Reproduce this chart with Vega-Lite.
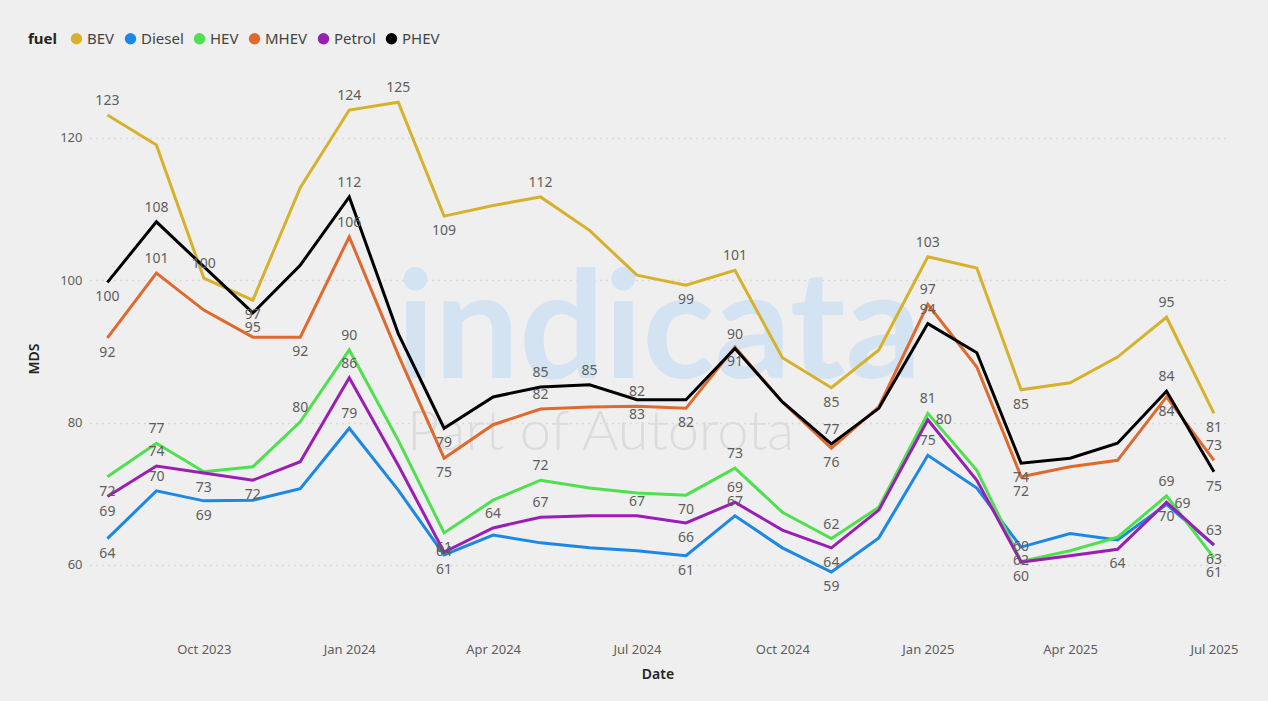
{
  "$schema": "https://vega.github.io/schema/vega-lite/v6.json",
  "autosize": "none",
  "padding": {"left": 90, "top": 88, "right": 43, "bottom": 72},
  "width": 1135,
  "height": 541,
  "background": "#efefef",
  "config": {"font": "Noto Sans", "view": {"stroke": null}},
  "datasets": {
    "mds": [
      {"d":"2023-08-01","fuel":"BEV","v":123.2,"lab":"123","pos":"a"},
      {"d":"2023-09-01","fuel":"BEV","v":119.0},
      {"d":"2023-10-01","fuel":"BEV","v":100.3,"lab":"100","pos":"a"},
      {"d":"2023-11-01","fuel":"BEV","v":97.2,"lab":"97","pos":"b"},
      {"d":"2023-12-01","fuel":"BEV","v":113.0},
      {"d":"2024-01-01","fuel":"BEV","v":123.9,"lab":"124","pos":"a"},
      {"d":"2024-02-01","fuel":"BEV","v":125.0,"lab":"125","pos":"a"},
      {"d":"2024-03-01","fuel":"BEV","v":109.0,"lab":"109","pos":"b"},
      {"d":"2024-04-01","fuel":"BEV","v":110.5},
      {"d":"2024-05-01","fuel":"BEV","v":111.7,"lab":"112","pos":"a"},
      {"d":"2024-06-01","fuel":"BEV","v":107.0},
      {"d":"2024-07-01","fuel":"BEV","v":100.7},
      {"d":"2024-08-01","fuel":"BEV","v":99.3,"lab":"99","pos":"b"},
      {"d":"2024-09-01","fuel":"BEV","v":101.4,"lab":"101","pos":"a"},
      {"d":"2024-10-01","fuel":"BEV","v":89.1},
      {"d":"2024-11-01","fuel":"BEV","v":84.9,"lab":"85","pos":"b"},
      {"d":"2024-12-01","fuel":"BEV","v":90.2},
      {"d":"2025-01-01","fuel":"BEV","v":103.3,"lab":"103","pos":"a"},
      {"d":"2025-02-01","fuel":"BEV","v":101.7},
      {"d":"2025-03-01","fuel":"BEV","v":84.6,"lab":"85","pos":"b"},
      {"d":"2025-04-01","fuel":"BEV","v":85.6},
      {"d":"2025-05-01","fuel":"BEV","v":89.2},
      {"d":"2025-06-01","fuel":"BEV","v":94.8,"lab":"95","pos":"a"},
      {"d":"2025-07-01","fuel":"BEV","v":81.3,"lab":"81","pos":"b"},

      {"d":"2023-08-01","fuel":"Diesel","v":63.7,"lab":"64","pos":"b"},
      {"d":"2023-09-01","fuel":"Diesel","v":70.4,"lab":"70","pos":"a"},
      {"d":"2023-10-01","fuel":"Diesel","v":69.0,"lab":"69","pos":"b"},
      {"d":"2023-11-01","fuel":"Diesel","v":69.1},
      {"d":"2023-12-01","fuel":"Diesel","v":70.7},
      {"d":"2024-01-01","fuel":"Diesel","v":79.2,"lab":"79","pos":"a"},
      {"d":"2024-02-01","fuel":"Diesel","v":70.5},
      {"d":"2024-03-01","fuel":"Diesel","v":61.4,"lab":"61","pos":"b"},
      {"d":"2024-04-01","fuel":"Diesel","v":64.2},
      {"d":"2024-05-01","fuel":"Diesel","v":63.1},
      {"d":"2024-06-01","fuel":"Diesel","v":62.4},
      {"d":"2024-07-01","fuel":"Diesel","v":62.0},
      {"d":"2024-08-01","fuel":"Diesel","v":61.3,"lab":"61","pos":"b"},
      {"d":"2024-09-01","fuel":"Diesel","v":66.9,"lab":"67","pos":"a"},
      {"d":"2024-10-01","fuel":"Diesel","v":62.4},
      {"d":"2024-11-01","fuel":"Diesel","v":59.0,"lab":"59","pos":"b"},
      {"d":"2024-12-01","fuel":"Diesel","v":63.8},
      {"d":"2025-01-01","fuel":"Diesel","v":75.4,"lab":"75","pos":"a"},
      {"d":"2025-02-01","fuel":"Diesel","v":70.8},
      {"d":"2025-03-01","fuel":"Diesel","v":62.5,"lab":"60","pos":"m"},
      {"d":"2025-04-01","fuel":"Diesel","v":64.4},
      {"d":"2025-05-01","fuel":"Diesel","v":63.5},
      {"d":"2025-06-01","fuel":"Diesel","v":68.5,"lab":"69","pos":"r"},
      {"d":"2025-07-01","fuel":"Diesel","v":62.8,"lab":"63","pos":"b"},

      {"d":"2023-08-01","fuel":"HEV","v":72.4,"lab":"72","pos":"b"},
      {"d":"2023-09-01","fuel":"HEV","v":77.1,"lab":"77","pos":"a"},
      {"d":"2023-10-01","fuel":"HEV","v":73.1},
      {"d":"2023-11-01","fuel":"HEV","v":73.8},
      {"d":"2023-12-01","fuel":"HEV","v":80.1,"lab":"80","pos":"a"},
      {"d":"2024-01-01","fuel":"HEV","v":90.2,"lab":"90","pos":"a"},
      {"d":"2024-02-01","fuel":"HEV","v":77.5},
      {"d":"2024-03-01","fuel":"HEV","v":64.5,"lab":"61","pos":"b"},
      {"d":"2024-04-01","fuel":"HEV","v":69.1},
      {"d":"2024-05-01","fuel":"HEV","v":71.9,"lab":"72","pos":"a"},
      {"d":"2024-06-01","fuel":"HEV","v":70.8},
      {"d":"2024-07-01","fuel":"HEV","v":70.1},
      {"d":"2024-08-01","fuel":"HEV","v":69.8,"lab":"70","pos":"b"},
      {"d":"2024-09-01","fuel":"HEV","v":73.6,"lab":"73","pos":"a"},
      {"d":"2024-10-01","fuel":"HEV","v":67.4},
      {"d":"2024-11-01","fuel":"HEV","v":63.7,"lab":"62","pos":"a"},
      {"d":"2024-12-01","fuel":"HEV","v":68.1},
      {"d":"2025-01-01","fuel":"HEV","v":81.3,"lab":"81","pos":"a"},
      {"d":"2025-02-01","fuel":"HEV","v":73.3},
      {"d":"2025-03-01","fuel":"HEV","v":60.5,"lab":"62","pos":"m"},
      {"d":"2025-04-01","fuel":"HEV","v":62.0},
      {"d":"2025-05-01","fuel":"HEV","v":63.9},
      {"d":"2025-06-01","fuel":"HEV","v":69.7,"lab":"69","pos":"a"},
      {"d":"2025-07-01","fuel":"HEV","v":61.0,"lab":"61","pos":"b"},

      {"d":"2023-08-01","fuel":"MHEV","v":91.9,"lab":"92","pos":"b"},
      {"d":"2023-09-01","fuel":"MHEV","v":101.0,"lab":"101","pos":"a"},
      {"d":"2023-10-01","fuel":"MHEV","v":95.8},
      {"d":"2023-11-01","fuel":"MHEV","v":92.0},
      {"d":"2023-12-01","fuel":"MHEV","v":92.0,"lab":"92","pos":"b"},
      {"d":"2024-01-01","fuel":"MHEV","v":106.1,"lab":"106","pos":"a"},
      {"d":"2024-02-01","fuel":"MHEV","v":89.5},
      {"d":"2024-03-01","fuel":"MHEV","v":75.0,"lab":"75","pos":"b"},
      {"d":"2024-04-01","fuel":"MHEV","v":79.7},
      {"d":"2024-05-01","fuel":"MHEV","v":81.9,"lab":"82","pos":"a"},
      {"d":"2024-06-01","fuel":"MHEV","v":82.2},
      {"d":"2024-07-01","fuel":"MHEV","v":82.3,"lab":"82","pos":"a"},
      {"d":"2024-08-01","fuel":"MHEV","v":82.0,"lab":"82","pos":"b"},
      {"d":"2024-09-01","fuel":"MHEV","v":90.6,"lab":"91","pos":"b"},
      {"d":"2024-10-01","fuel":"MHEV","v":82.9},
      {"d":"2024-11-01","fuel":"MHEV","v":76.4,"lab":"76","pos":"b"},
      {"d":"2024-12-01","fuel":"MHEV","v":82.2},
      {"d":"2025-01-01","fuel":"MHEV","v":96.6,"lab":"97","pos":"a"},
      {"d":"2025-02-01","fuel":"MHEV","v":87.8},
      {"d":"2025-03-01","fuel":"MHEV","v":72.4,"lab":"72","pos":"b"},
      {"d":"2025-04-01","fuel":"MHEV","v":73.8},
      {"d":"2025-05-01","fuel":"MHEV","v":74.7},
      {"d":"2025-06-01","fuel":"MHEV","v":83.6,"lab":"84","pos":"b"},
      {"d":"2025-07-01","fuel":"MHEV","v":74.7,"lab":"73","pos":"a"},

      {"d":"2023-08-01","fuel":"Petrol","v":69.6,"lab":"69","pos":"b"},
      {"d":"2023-09-01","fuel":"Petrol","v":73.9,"lab":"74","pos":"a"},
      {"d":"2023-10-01","fuel":"Petrol","v":72.9,"lab":"73","pos":"b"},
      {"d":"2023-11-01","fuel":"Petrol","v":71.9,"lab":"72","pos":"b"},
      {"d":"2023-12-01","fuel":"Petrol","v":74.5},
      {"d":"2024-01-01","fuel":"Petrol","v":86.3,"lab":"86","pos":"a"},
      {"d":"2024-02-01","fuel":"Petrol","v":74.0},
      {"d":"2024-03-01","fuel":"Petrol","v":61.8,"lab":"64","pos":"m"},
      {"d":"2024-04-01","fuel":"Petrol","v":65.2,"lab":"64","pos":"a"},
      {"d":"2024-05-01","fuel":"Petrol","v":66.7,"lab":"67","pos":"a"},
      {"d":"2024-06-01","fuel":"Petrol","v":66.9},
      {"d":"2024-07-01","fuel":"Petrol","v":66.9,"lab":"67","pos":"a"},
      {"d":"2024-08-01","fuel":"Petrol","v":65.9,"lab":"66","pos":"b"},
      {"d":"2024-09-01","fuel":"Petrol","v":68.8,"lab":"69","pos":"a"},
      {"d":"2024-10-01","fuel":"Petrol","v":64.9},
      {"d":"2024-11-01","fuel":"Petrol","v":62.4,"lab":"64","pos":"b"},
      {"d":"2024-12-01","fuel":"Petrol","v":67.7},
      {"d":"2025-01-01","fuel":"Petrol","v":80.4,"lab":"80","pos":"r"},
      {"d":"2025-02-01","fuel":"Petrol","v":71.9},
      {"d":"2025-03-01","fuel":"Petrol","v":60.4,"lab":"60","pos":"b"},
      {"d":"2025-04-01","fuel":"Petrol","v":61.3},
      {"d":"2025-05-01","fuel":"Petrol","v":62.2,"lab":"64","pos":"b"},
      {"d":"2025-06-01","fuel":"Petrol","v":68.8,"lab":"70","pos":"b"},
      {"d":"2025-07-01","fuel":"Petrol","v":62.8,"lab":"63","pos":"a"},

      {"d":"2023-08-01","fuel":"PHEV","v":99.7,"lab":"100","pos":"b"},
      {"d":"2023-09-01","fuel":"PHEV","v":108.2,"lab":"108","pos":"a"},
      {"d":"2023-10-01","fuel":"PHEV","v":101.9},
      {"d":"2023-11-01","fuel":"PHEV","v":95.4,"lab":"95","pos":"b"},
      {"d":"2023-12-01","fuel":"PHEV","v":102.1},
      {"d":"2024-01-01","fuel":"PHEV","v":111.7,"lab":"112","pos":"a"},
      {"d":"2024-02-01","fuel":"PHEV","v":92.5},
      {"d":"2024-03-01","fuel":"PHEV","v":79.2,"lab":"79","pos":"b"},
      {"d":"2024-04-01","fuel":"PHEV","v":83.6},
      {"d":"2024-05-01","fuel":"PHEV","v":85.0,"lab":"85","pos":"a"},
      {"d":"2024-06-01","fuel":"PHEV","v":85.3,"lab":"85","pos":"a"},
      {"d":"2024-07-01","fuel":"PHEV","v":83.2,"lab":"83","pos":"b"},
      {"d":"2024-08-01","fuel":"PHEV","v":83.2},
      {"d":"2024-09-01","fuel":"PHEV","v":90.4,"lab":"90","pos":"a"},
      {"d":"2024-10-01","fuel":"PHEV","v":82.9},
      {"d":"2024-11-01","fuel":"PHEV","v":77.0,"lab":"77","pos":"a"},
      {"d":"2024-12-01","fuel":"PHEV","v":82.0},
      {"d":"2025-01-01","fuel":"PHEV","v":93.9,"lab":"94","pos":"a"},
      {"d":"2025-02-01","fuel":"PHEV","v":89.8},
      {"d":"2025-03-01","fuel":"PHEV","v":74.3,"lab":"74","pos":"b"},
      {"d":"2025-04-01","fuel":"PHEV","v":75.0},
      {"d":"2025-05-01","fuel":"PHEV","v":77.1},
      {"d":"2025-06-01","fuel":"PHEV","v":84.4,"lab":"84","pos":"a"},
      {"d":"2025-07-01","fuel":"PHEV","v":73.1,"lab":"75","pos":"b"}
    ]
  },
  "encoding": {
    "x": {
      "field": "d", "type": "temporal", "title": "Date",
      "scale": {"type": "utc", "domain": ["2023-07-21", "2025-07-08"]},
      "axis": {
        "format": "%b %Y", "tickCount": {"interval": "month", "step": 3},
        "grid": false, "domain": false, "ticks": false,
        "labelFont": "Noto Sans", "labelFontSize": 13, "labelColor": "#605e5c", "labelPadding": 14,
        "titleFont": "Noto Sans", "titleFontSize": 14, "titleFontWeight": 600, "titleColor": "#252423", "titlePadding": 11
      }
    },
    "y": {
      "field": "v", "type": "quantitative", "title": "MDS",
      "scale": {"domain": [51, 127], "nice": false, "zero": false},
      "axis": {
        "values": [60, 80, 100, 120],
        "grid": true, "gridDash": [1, 5], "gridColor": "#c4c4c4", "gridWidth": 1.5,
        "domain": false, "ticks": false,
        "labelFont": "Noto Sans", "labelFontSize": 13, "labelColor": "#605e5c", "labelPadding": 8,
        "titleFont": "Noto Sans", "titleFontSize": 14, "titleFontWeight": 600, "titleColor": "#252423", "titlePadding": 18
      }
    }
  },
  "layer": [
    {
      "data": {"values": [{"d": "2024-07-15", "v": 86.3, "t": "indicata"}]},
      "mark": {"type": "text", "font": "Lato", "fontWeight": "bold", "fontSize": 150, "color": "#d3e3f2", "baseline": "alphabetic", "align": "center"},
      "encoding": {"text": {"field": "t"}}
    },
    {
      "data": {"values": [{"d": "2024-06-08", "v": 76.2, "t": "Part of Autorota"}]},
      "mark": {"type": "text", "font": "Lato", "fontWeight": 300, "fontSize": 56, "color": "#dcdcdc", "baseline": "alphabetic", "align": "center"},
      "encoding": {"text": {"field": "t"}}
    },
    {
      "data": {"name": "mds"},
      "mark": {"type": "line", "strokeWidth": 3, "strokeJoin": "miter"},
      "encoding": {
        "color": {
          "field": "fuel", "type": "nominal", "title": "fuel",
          "scale": {"domain": ["BEV", "Diesel", "HEV", "MHEV", "Petrol", "PHEV"], "range": ["#d6b22c", "#1c88e6", "#4fe04f", "#e0692e", "#9a1eb4", "#000000"]},
          "legend": {
            "orient": "none", "direction": "horizontal", "legendX": -62, "legendY": -57,
            "titleOrient": "left", "titleFont": "Noto Sans", "titleFontSize": 15, "titleFontWeight": "bold", "titleColor": "#252423", "titlePadding": 12,
            "labelFont": "Noto Sans", "labelFontSize": 15, "labelColor": "#444444", "labelOffset": 3,
            "symbolType": "circle", "symbolSize": 130, "columnPadding": 8,
            "encode": {"symbols": {"update": {"fill": {"scale": "color", "field": "value"}, "strokeWidth": {"value": 0}, "opacity": {"value": 1}}}}
          }
        }
      }
    },
    {
      "data": {"name": "mds"},
      "transform": [{"filter": "datum.pos === 'a'"}],
      "mark": {"type": "text", "baseline": "bottom", "dy": -7, "fontSize": 14, "color": "#605e5c", "font": "Noto Sans"},
      "encoding": {"text": {"field": "lab"}}
    },
    {
      "data": {"name": "mds"},
      "transform": [{"filter": "datum.pos === 'b'"}],
      "mark": {"type": "text", "baseline": "top", "dy": 8, "fontSize": 14, "color": "#605e5c", "font": "Noto Sans"},
      "encoding": {"text": {"field": "lab"}}
    },
    {
      "data": {"name": "mds"},
      "transform": [{"filter": "datum.pos === 'm'"}],
      "mark": {"type": "text", "baseline": "middle", "fontSize": 14, "color": "#605e5c", "font": "Noto Sans"},
      "encoding": {"text": {"field": "lab"}}
    },
    {
      "data": {"name": "mds"},
      "transform": [{"filter": "datum.pos === 'r'"}],
      "mark": {"type": "text", "baseline": "middle", "align": "left", "dx": 8, "fontSize": 14, "color": "#605e5c", "font": "Noto Sans"},
      "encoding": {"text": {"field": "lab"}}
    }
  ]
}
